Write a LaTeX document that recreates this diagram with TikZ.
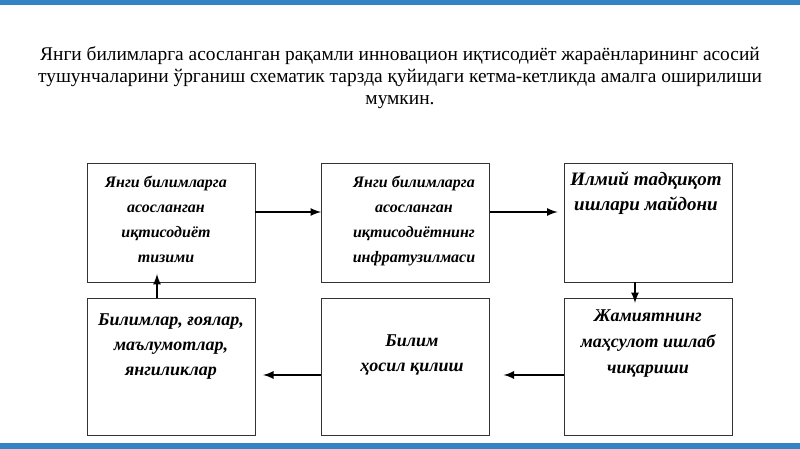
\documentclass[tikz,border=0pt]{standalone}
\usepackage{fontspec}
\setmainfont{Liberation Serif}
\usetikzlibrary{positioning}
\definecolor{barblue}{RGB}{52,132,196}
\begin{document}
\begin{tikzpicture}[
    x=0.5pt, y=-0.5pt,
    box/.style={draw=black!80,thin,fill=white,minimum width=84pt,
        minimum height=59.5pt,inner sep=0pt},
    btxt/.style={align=center,font=\fontsize{8}{12.5}\selectfont\bfseries\itshape,
        inner sep=0pt,anchor=north},
    >=latex,
    ]
    \useasboundingbox (0,0) rectangle (800,449);
    \fill[barblue] (0,0) rectangle (800,5);
    \fill[barblue] (0,443) rectangle (800,449);
    \node[align=center,font=\fontsize{9.7}{11}\selectfont] (title) at (400,78)
        {Янги билимларга асосланган рақамли инновацион иқтисодиёт жараёнларининг асосий\\
         тушунчаларини ўрганиш схематик тарзда қуйидаги кетма-кетликда амалга оширилиши\\
         мумкин.};
    % top row
    \node[box] (b1) at (171,222.5) {};
    \node[box] (b2) at (405.5,222.5) {};
    \node[box] (b3) at (648,222.5) {};
    % bottom row
    \node[box,minimum height=68.5pt] (b4) at (171,366.5) {};
    \node[box,minimum height=68.5pt] (b5) at (405.5,366.5) {};
    \node[box,minimum height=68.5pt] (b6) at (648,366.5) {};
    \node[btxt] at (166,176) {Янги билимларга\\асосланган\\иқтисодиёт\\тизими};
    \node[btxt] at (414,176) {Янги билимларга\\асосланган\\иқтисодиётнинг\\инфратузилмаси};
    \node[btxt,font=\fontsize{9.5}{12.5}\selectfont\bfseries\itshape] at (646,171) {Илмий тадқиқот\\ишлари майдони};
    \node[btxt,font=\fontsize{9}{12.5}\selectfont\bfseries\itshape] at (171,313) {Билимлар, ғоялар,\\маълумотлар,\\янгиликлар};
    \node[btxt,font=\fontsize{9}{12.5}\selectfont\bfseries\itshape] at (412,334) {Билим\\ҳосил қилиш};
    \node[btxt,font=\fontsize{9}{13}\selectfont\bfseries\itshape] at (648,309) {Жамиятнинг\\маҳсулот ишлаб\\чиқариши};
    % arrows
    \draw[->,thick] (b1.east |- 0,212) -- (b2.west |- 0,212);
    \draw[->,thick] (b2.east |- 0,212) -- ([xshift=-3pt]b3.west |- 0,212);
    \draw[->,thick] (635,282) coordinate (c3) -- (635,303);
    \draw[->,thick] (b6.west |- 0,375) -- ([xshift=-30pt]b6.west |- 0,375);
    \draw[->,thick] (b5.west |- 0,375) -- ([xshift=-29pt]b5.west |- 0,375);
    \draw[->,thick] (157,298) -- (157,274);
\end{tikzpicture}
\end{document}
